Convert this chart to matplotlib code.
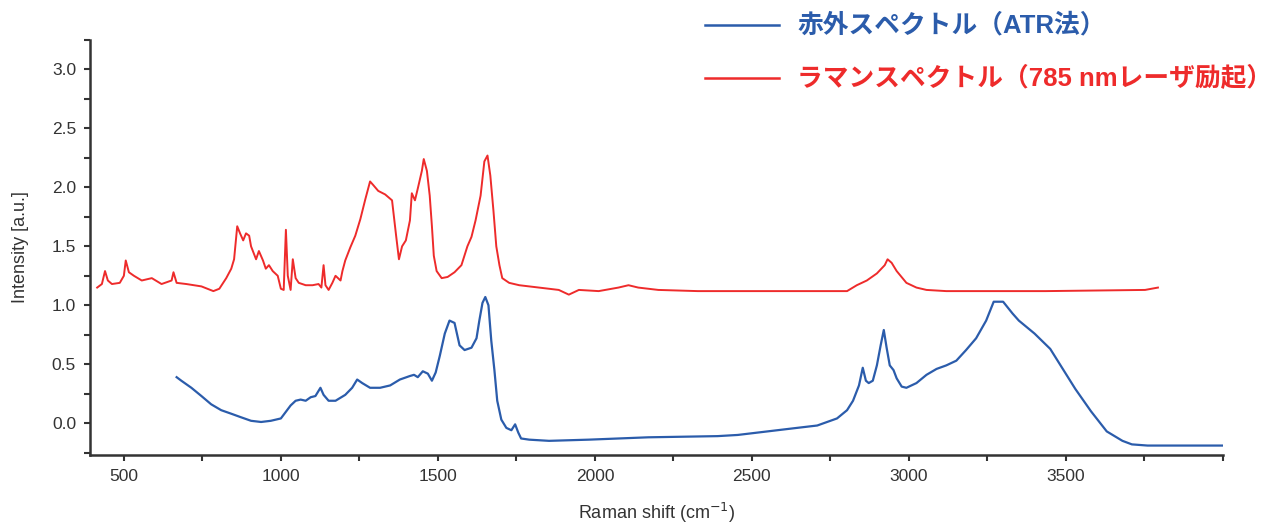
import matplotlib
matplotlib.use("Agg")
import matplotlib.pyplot as plt
from matplotlib.ticker import MultipleLocator, FixedLocator

# ラマンスペクトル (785 nm励起) : 波数 [cm-1] と強度
raman_x = [415, 430, 440, 449, 462, 487, 500, 506, 516, 532, 557, 589, 620, 652, 658,
           668, 699, 747, 785, 804, 826, 842, 851, 861, 870, 880, 889, 899, 905, 921,
           930, 943, 952, 962, 974, 990, 1000, 1009, 1016, 1022, 1031, 1038, 1047,
           1057, 1079, 1101, 1120, 1129, 1136, 1142, 1152, 1164, 1174, 1190, 1196,
           1205, 1221, 1237, 1253, 1269, 1284, 1294, 1310, 1332, 1354, 1367, 1376,
           1386, 1398, 1411, 1417, 1427, 1436, 1449, 1455, 1465, 1474, 1481, 1487,
           1496, 1512, 1531, 1553, 1575, 1594, 1607, 1620, 1636, 1648, 1658, 1667,
           1677, 1686, 1696, 1705, 1727, 1759, 1822, 1885, 1917, 1949, 2012, 2075,
           2107, 2138, 2202, 2328, 2644, 2803, 2834, 2866, 2898, 2923, 2932, 2945,
           2961, 2992, 3024, 3056, 3119, 3435, 3752, 3793]
raman_y = [1.15, 1.18, 1.29, 1.21, 1.18, 1.19, 1.25, 1.38, 1.28, 1.25, 1.21, 1.23, 1.18,
           1.21, 1.28, 1.19, 1.18, 1.16, 1.12, 1.14, 1.23, 1.31, 1.39, 1.67, 1.61,
           1.55, 1.61, 1.59, 1.50, 1.39, 1.46, 1.38, 1.31, 1.34, 1.29, 1.25, 1.14,
           1.13, 1.64, 1.25, 1.13, 1.39, 1.23, 1.19, 1.17, 1.17, 1.18, 1.15, 1.34,
           1.17, 1.13, 1.19, 1.25, 1.21, 1.29, 1.38, 1.49, 1.59, 1.73, 1.90, 2.05,
           2.02, 1.97, 1.94, 1.89, 1.59, 1.39, 1.50, 1.55, 1.72, 1.95, 1.89, 1.99,
           2.14, 2.24, 2.14, 1.93, 1.67, 1.42, 1.29, 1.23, 1.24, 1.28, 1.34, 1.50,
           1.58, 1.72, 1.93, 2.22, 2.27, 2.10, 1.80, 1.50, 1.34, 1.23, 1.19, 1.17,
           1.15, 1.13, 1.09, 1.13, 1.12, 1.15, 1.17, 1.15, 1.13, 1.12, 1.12, 1.12,
           1.17, 1.21, 1.27, 1.34, 1.39, 1.36, 1.29, 1.19, 1.15, 1.13, 1.12, 1.12,
           1.13, 1.15]

# 赤外スペクトル (ATR法)
ir_x = [668, 683, 715, 747, 778, 810, 842, 873, 905, 937, 968, 1000, 1031, 1047, 1063,
        1079, 1095, 1110, 1126, 1136, 1152, 1174, 1205, 1227, 1243, 1259, 1284, 1316,
        1348, 1379, 1411, 1424, 1436, 1452, 1468, 1481, 1493, 1506, 1522, 1537, 1553,
        1569, 1585, 1607, 1623, 1632, 1642, 1651, 1661, 1670, 1680, 1689, 1702, 1718,
        1734, 1746, 1756, 1765, 1791, 1854, 1980, 2170, 2391, 2455, 2518, 2581, 2644,
        2708, 2771, 2803, 2822, 2841, 2853, 2863, 2872, 2885, 2898, 2910, 2920, 2929,
        2939, 2951, 2961, 2977, 2992, 3024, 3056, 3088, 3119, 3151, 3182, 3214, 3246,
        3270, 3300, 3330, 3350, 3400, 3450, 3490, 3530, 3580, 3630, 3680, 3710, 3760,
        3800, 3900, 4000]
ir_y = [0.39, 0.36, 0.30, 0.23, 0.16, 0.11, 0.08, 0.05, 0.02, 0.01, 0.02, 0.04, 0.15,
        0.19, 0.20, 0.19, 0.22, 0.23, 0.30, 0.24, 0.19, 0.19, 0.24, 0.30, 0.37, 0.34,
        0.30, 0.30, 0.32, 0.37, 0.40, 0.41, 0.39, 0.44, 0.42, 0.36, 0.43, 0.57, 0.76,
        0.87, 0.85, 0.66, 0.62, 0.64, 0.72, 0.87, 1.02, 1.07, 1.00, 0.70, 0.45, 0.19,
        0.03, -0.04, -0.06, -0.01, -0.08, -0.13, -0.14, -0.15, -0.14, -0.12, -0.11,
        -0.10, -0.08, -0.06, -0.04, -0.02, 0.04, 0.11, 0.19, 0.32, 0.47, 0.36, 0.34,
        0.36, 0.49, 0.66, 0.79, 0.64, 0.49, 0.45, 0.38, 0.31, 0.30, 0.34, 0.41, 0.46,
        0.49, 0.53, 0.62, 0.72, 0.87, 1.03, 1.03, 0.93, 0.87, 0.76, 0.63, 0.46, 0.29,
        0.10, -0.07, -0.15, -0.18, -0.19, -0.19, -0.19, -0.19]

blue = "#2b5cab"
red = "#ee2b2b"
grey = "#333333"

plt.rcParams['font.family'] = ['Liberation Sans', 'DejaVu Sans']

fig = plt.figure(figsize=(12.85, 5.24), dpi=100)
ax = fig.add_axes([0.070, 0.1317, 0.8817, 0.792])

ax.plot(raman_x, raman_y, color=red, lw=1.4)
ax.plot(ir_x, ir_y, color=blue, lw=1.6)

ax.set_xlim(392, 4000)
ax.set_ylim(-0.27, 3.25)

ax.xaxis.set_major_locator(FixedLocator([500, 1000, 1500, 2000, 2500, 3000, 3500]))
ax.xaxis.set_minor_locator(MultipleLocator(250))
ax.yaxis.set_major_locator(MultipleLocator(0.5))
ax.yaxis.set_minor_locator(MultipleLocator(0.25))
ax.yaxis.set_major_formatter(matplotlib.ticker.FormatStrFormatter('%.1f'))

for s in ['top', 'right']:
    ax.spines[s].set_visible(False)
for s in ['left', 'bottom']:
    ax.spines[s].set_linewidth(1.8)
    ax.spines[s].set_color(grey)

ax.tick_params(which='both', direction='out', length=4, width=1.5, color=grey,
               labelsize=12.5, labelcolor=grey, pad=6)

ax.set_xlabel('Raman shift (cm$^{-1}$)', fontsize=13, color=grey, labelpad=12)
ax.set_ylabel('Intensity [a.u.]', fontsize=13, color=grey, labelpad=16)

# 凡例は図の右上に線と文字で描く (欧文はLiberation、和文はNotoで)
mixed = ['Liberation Sans', 'Noto Sans CJK JP']
for y, col, txt in [(0.952, blue, '赤外スペクトル（ATR法）'),
                    (0.851, red, 'ラマンスペクトル（785 nmレーザ励起）')]:
    fig.add_artist(plt.Line2D([705 / 1285, 779 / 1285], [y, y], color=col, lw=1.8,
                              transform=fig.transFigure))
    fig.text(797 / 1285, y, txt, color=col, fontsize=18.5, fontweight='bold',
             family=mixed, va='center', ha='left')

fig.savefig('out.png', dpi=100)
